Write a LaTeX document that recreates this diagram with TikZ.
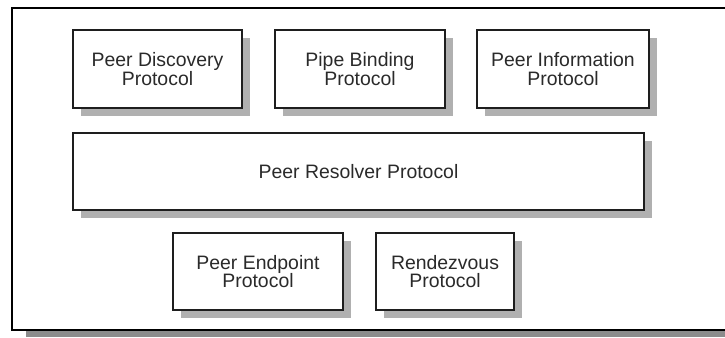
\documentclass[tikz,border=0pt]{standalone}
\usepackage{fontspec}
\setmainfont{Liberation Sans}
\usetikzlibrary{shadows}
\definecolor{shadowgray}{HTML}{B0B0B0}
\definecolor{framegray}{HTML}{8C8C8C}
\definecolor{boxline}{HTML}{1E1E1E}
\definecolor{txt}{HTML}{2A2A2A}
\begin{document}
\begin{tikzpicture}[x=1bp,y=-1bp,
  proto/.style={draw=boxline, line width=1.8bp, fill=white, align=center,
    inner sep=0pt, text=txt, font=\fontsize{19.5}{18.5}\selectfont,
    drop shadow={shadow xshift=8bp, shadow yshift=-8bp, fill=shadowgray, opacity=1}}]
\useasboundingbox (0,0) rectangle (725,337);
% outer frame
\fill[framegray] (26,331) rectangle (725,337);
\draw[line width=2bp, black] (725,330) -- (12,330) -- (12,8) -- (725,8);
% protocol boxes
\node[proto, minimum width=169bp, minimum height=78bp] (disc) at (157.5,69) {Peer Discovery\\Protocol};
\node[proto, minimum width=170bp, minimum height=78bp] (pipe) at (360,69) {Pipe Binding\\Protocol};
\node[proto, minimum width=172bp, minimum height=78bp] (info) at (563,69) {Peer Information\\Protocol};
\node[proto, minimum width=571bp, minimum height=77bp] (res) at (358.5,171.5) {Peer Resolver Protocol};
\node[proto, minimum width=170bp, minimum height=77bp] (end) at (258,271.5) {Peer Endpoint\\Protocol};
\node[proto, minimum width=138bp, minimum height=77bp] (rdv) at (445,271.5) {Rendezvous\\Protocol};
\end{tikzpicture}
\end{document}
